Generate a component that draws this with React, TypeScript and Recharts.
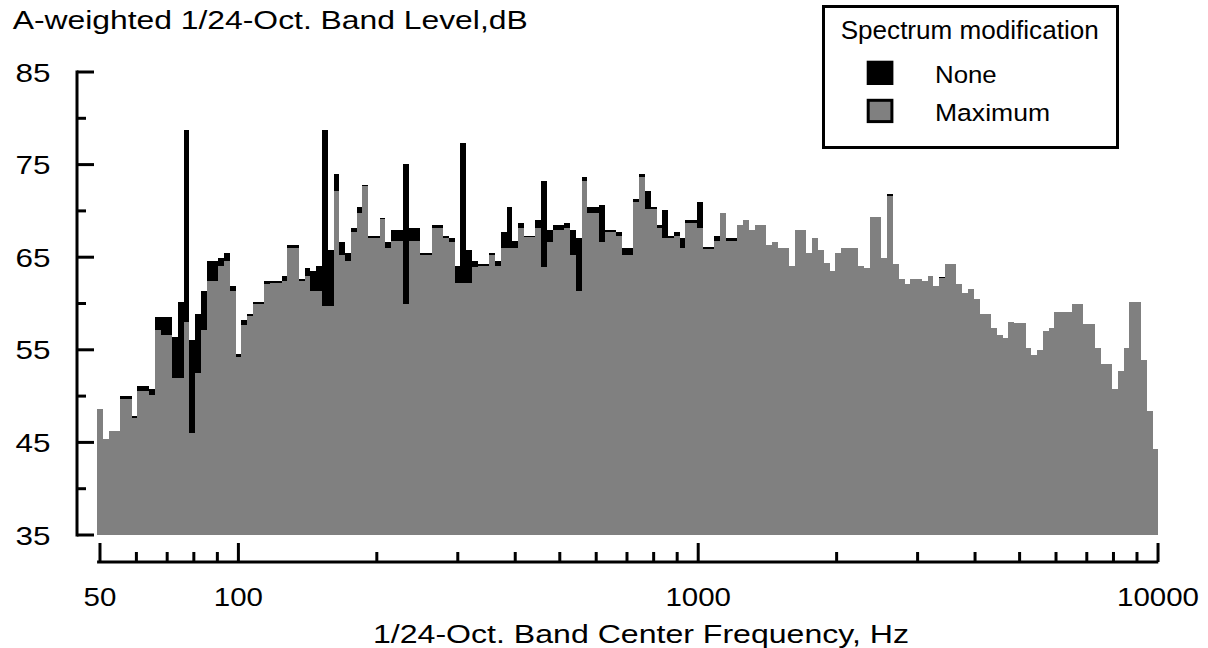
import React from 'react';
import { ComposedChart, Bar, Line, XAxis, YAxis, Legend } from 'recharts';

// A-weighted 1/24-octave band levels in dB, one value per band, starting at 50 Hz
const maximumLevels = [
  48.6, 45.4, 46.2, 46.2, 49.7, 49.7, 47.6, 50.6, 50.6, 50.1,
  57.1, 56.6, 56.6, 52.0, 52.0, 58.0, 46.0, 52.5, 57.1, 62.4,
  62.4, 64.1, 64.6, 61.4, 54.2, 57.7, 58.6, 59.9, 59.9, 62.1,
  62.2, 62.2, 62.4, 66.0, 66.0, 62.4, 63.0, 61.4, 61.4, 59.7,
  59.7, 72.1, 65.2, 64.6, 67.7, 69.8, 72.7, 67.1, 67.1, 69.1,
  66.0, 66.8, 66.8, 60.0, 66.8, 66.8, 65.2, 65.2, 68.2, 68.2,
  67.1, 66.6, 62.2, 62.2, 62.2, 63.9, 64.1, 64.1, 65.2, 64.1,
  66.0, 66.0, 66.0, 68.2, 67.2, 67.2, 68.2, 63.9, 66.6, 67.9,
  67.9, 68.2, 65.2, 61.4, 73.2, 69.8, 69.8, 66.6, 67.7, 67.7,
  67.3, 65.2, 65.2, 71.0, 73.7, 70.2, 70.2, 68.2, 67.1, 67.1,
  67.3, 66.0, 68.7, 68.7, 68.2, 65.9, 65.9, 66.8, 69.8, 66.8,
  66.8, 68.5, 69.0, 67.9, 68.5, 68.5, 66.3, 66.6, 66.0, 66.0,
  64.0, 67.9, 67.9, 65.5, 67.1, 65.8, 64.4, 63.5, 65.5, 66.0,
  66.0, 66.0, 64.1, 63.8, 69.3, 69.3, 64.9, 71.6, 64.3, 62.6,
  62.1, 62.6, 62.6, 62.4, 63.0, 61.9, 62.7, 64.3, 64.3, 62.1,
  61.1, 61.6, 60.5, 58.9, 58.9, 57.4, 56.6, 56.3, 58.0, 57.9,
  57.9, 55.2, 54.4, 55.0, 57.0, 57.4, 59.1, 59.1, 59.1, 59.9,
  59.9, 57.8, 57.8, 55.2, 53.5, 53.5, 50.8, 52.7, 55.2, 60.2,
  60.2, 53.9, 48.4, 44.3,
];

const noneLevels = [
  47.8, 42.6, 42.9, 42.9, 50.0, 50.0, 47.9, 51.1, 51.1, 50.8,
  58.5, 58.5, 58.5, 56.4, 60.2, 78.7, 56.1, 58.9, 61.4, 64.6,
  64.6, 64.9, 65.4, 61.9, 54.6, 58.2, 58.9, 60.2, 60.2, 62.4,
  62.4, 62.4, 63.0, 66.3, 66.3, 62.6, 63.8, 63.5, 64.1, 78.7,
  65.8, 74.0, 66.6, 65.4, 68.2, 70.4, 72.8, 67.3, 67.3, 69.2,
  66.6, 67.9, 67.9, 75.1, 68.2, 68.2, 65.5, 65.5, 68.5, 68.5,
  67.3, 67.1, 64.1, 77.3, 65.8, 64.6, 64.3, 64.3, 65.5, 64.6,
  67.7, 70.4, 66.8, 68.7, 67.3, 67.3, 69.0, 73.2, 67.9, 68.5,
  68.5, 68.7, 67.9, 67.1, 73.7, 70.4, 70.4, 70.6, 67.9, 67.9,
  67.7, 66.0, 66.0, 71.3, 74.0, 72.1, 70.4, 68.5, 70.1, 67.3,
  67.7, 67.1, 69.0, 69.0, 71.0, 66.1, 66.1, 67.3, 69.5, 67.1,
  67.1, 68.2, 68.7, 67.6, 68.2, 68.2, 66.0, 66.3, 65.7, 65.7,
  63.7, 67.6, 67.6, 65.2, 66.8, 65.5, 64.1, 63.2, 65.2, 65.7,
  65.7, 65.7, 63.8, 63.5, 69.0, 69.0, 64.6, 71.8, 64.0, 62.3,
  61.8, 62.3, 62.3, 62.1, 62.7, 61.6, 62.9, 64.0, 64.0, 61.8,
  60.8, 61.3, 60.2, 58.6, 58.6, 57.1, 56.3, 56.0, 57.7, 57.6,
  57.6, 54.9, 54.1, 54.7, 56.7, 57.1, 58.8, 58.8, 58.8, 59.6,
  59.6, 57.5, 57.5, 54.9, 53.2, 53.2, 50.5, 52.4, 54.9, 59.9,
  59.9, 53.6, 48.1, 44.0,
];

const firstBandHz = 50;
const bandsPerOctave = 24;

const freqTicks = [
  50, 60, 70, 80, 90, 100, 200, 300, 400, 500, 600, 700, 800, 900,
  1000, 2000, 3000, 4000, 5000, 6000, 7000, 8000, 9000, 10000,
];
const freqTickLabels = [50, 100, 1000, 10000];
const levelTicks = [35, 40, 45, 50, 55, 60, 65, 70, 75, 80, 85];
const levelTickLabels = [35, 45, 55, 65, 75, 85];
const legendOrder = ['None', 'Maximum'];

const LEVEL_FLOOR = 35;
const LEVEL_TOP = 85;

// layout (px, page coords)
const CHART_W = 1208;
const CHART_H = 648;
const PLOT_LEFT = 97.1;
const PLOT_RIGHT = 1158.3;
const PLOT_TOP = 72;
const X_AXIS_Y = 562;
const Y_AXIS_X = 77;
const FLOOR_GAP = 27;
const BAND_PX = (PLOT_RIGHT - PLOT_LEFT) / maximumLevels.length;

const FONT = '"Liberation Sans", Arial, Helvetica, sans-serif';
const DIGIT_W = 16.4;

const data = maximumLevels.map((level, k) => ({
  band: k,
  freq: firstBandHz * Math.pow(2, k / bandsPerOctave),
  none: [LEVEL_FLOOR, noneLevels[k]],
  maximum: [LEVEL_FLOOR, level],
}));

// band edges of first and last band, so the log axis lines up with the bars
const freqDomain = [
  firstBandHz * Math.pow(2, -0.5 / bandsPerOctave),
  firstBandHz * Math.pow(2, (maximumLevels.length - 0.5) / bandsPerOctave),
];

const BarShape = (props: any) => {
  const { x, y, width, height, fill } = props;
  if (width == null || height == null || height <= 0) return null;
  return <rect x={x} y={y} width={width} height={height} fill={fill} shapeRendering="crispEdges" />;
};

const LevelTick = (props: any) => {
  const { y, payload } = props;
  const v = payload.value;
  const labeled = levelTickLabels.includes(v);
  return (
    <g>
      {v === LEVEL_FLOOR && (
        <line x1={Y_AXIS_X} y1={y} x2={Y_AXIS_X} y2={PLOT_TOP} stroke="#000" strokeWidth={3} strokeLinecap="square" />
      )}
      <line x1={Y_AXIS_X} y1={y} x2={Y_AXIS_X + (labeled ? 17 : 9)} y2={y} stroke="#000" strokeWidth={3} />
      {labeled && (
        <text
          x={50.5}
          y={y + 9.5}
          textAnchor="end"
          fontFamily={FONT}
          fontSize={26.5}
          fill="#000"
          textLength={String(v).length * 17.5}
          lengthAdjust="spacingAndGlyphs"
        >
          {v}
        </text>
      )}
    </g>
  );
};

const FreqTick = (props: any) => {
  const { x, payload } = props;
  const v = payload.value;
  const labeled = freqTickLabels.includes(v);
  return (
    <g>
      <line x1={x} y1={X_AXIS_Y} x2={x} y2={X_AXIS_Y - (labeled ? 19 : 10)} stroke="#000" strokeWidth={3} />
      {labeled && (
        <text
          x={x}
          y={606}
          textAnchor="middle"
          fontFamily={FONT}
          fontSize={26}
          fill="#000"
          textLength={String(v).length * DIGIT_W}
          lengthAdjust="spacingAndGlyphs"
        >
          {v}
        </text>
      )}
    </g>
  );
};

const LegendBox = (props: any) => {
  const items = (props.payload || [])
    .filter((p: any) => legendOrder.includes(p.value))
    .sort((a: any, b: any) => legendOrder.indexOf(a.value) - legendOrder.indexOf(b.value));
  const widths: Record<string, number> = { None: 61.7, Maximum: 115 };
  return (
    <svg width={297} height={144} style={{ display: 'block' }}>
      <rect x={1.5} y={1.5} width={294} height={141} fill="#fff" stroke="#000" strokeWidth={3} />
      <text x={18.7} y={33.5} fontFamily={FONT} fontSize={25} fill="#000" textLength={258} lengthAdjust="spacingAndGlyphs">
        Spectrum modification
      </text>
      {items.map((item: any, i: number) => {
        const top = 55.7 + i * 38.1;
        const outlined = item.value === 'Maximum';
        return (
          <g key={item.value}>
            {outlined ? (
              <rect x={46.2} y={top + 1.5} width={23.7} height={21.3} fill={item.color} stroke="#000" strokeWidth={3} />
            ) : (
              <rect x={44.7} y={top} width={26.7} height={24.3} fill={item.color} />
            )}
            <text
              x={113}
              y={top + 22.6}
              fontFamily={FONT}
              fontSize={24.5}
              fill="#000"
              textLength={widths[item.value] || undefined}
              lengthAdjust="spacingAndGlyphs"
            >
              {item.value}
            </text>
          </g>
        );
      })}
    </svg>
  );
};

const App: React.FC = () => {
  return (
    <div style={{ position: 'absolute', left: 0, top: 0, width: CHART_W, height: CHART_H, background: '#fff' }}>
      <ComposedChart
        width={CHART_W}
        height={CHART_H}
        data={data}
        margin={{ top: PLOT_TOP, right: CHART_W - PLOT_RIGHT, bottom: 0, left: 0 }}
        barGap={-(BAND_PX - 0.001)}
        barCategoryGap={0}
      >
        <XAxis
          xAxisId="freq"
          dataKey="freq"
          type="number"
          scale="log"
          domain={freqDomain}
          allowDataOverflow
          ticks={freqTicks}
          interval={0}
          height={CHART_H - X_AXIS_Y}
          tickLine={false}
          tickSize={0}
          tickMargin={0}
          axisLine={{ stroke: '#000', strokeWidth: 3 }}
          tick={<FreqTick />}
          label={{
            content: () => (
              <text x={373} y={643} fontFamily={FONT} fontSize={26} fill="#000" textLength={536} lengthAdjust="spacingAndGlyphs">
                1/24-Oct. Band Center Frequency, Hz
              </text>
            ),
          }}
        />
        <XAxis xAxisId="band" dataKey="band" type="category" hide height={0} />
        <YAxis
          type="number"
          domain={[LEVEL_FLOOR, LEVEL_TOP]}
          ticks={levelTicks}
          interval={0}
          width={PLOT_LEFT}
          padding={{ top: 0, bottom: FLOOR_GAP }}
          allowDataOverflow
          axisLine={false}
          tickLine={false}
          tickSize={0}
          tickMargin={0}
          tick={<LevelTick />}
          label={{
            content: () => (
              <text x={12.7} y={29.3} fontFamily={FONT} fontSize={25.6} fill="#000" textLength={515} lengthAdjust="spacingAndGlyphs">
                A-weighted 1/24-Oct. Band Level,dB
              </text>
            ),
          }}
        />
        <Legend
          layout="vertical"
          align="center"
          verticalAlign="middle"
          wrapperStyle={{ left: 822, top: 5, width: 297, height: 144 }}
          content={<LegendBox />}
        />
        <Bar
          xAxisId="band"
          dataKey="none"
          name="None"
          fill="#000000"
          barSize={BAND_PX - 0.001}
          shape={<BarShape />}
          isAnimationActive={false}
        />
        <Bar
          xAxisId="band"
          dataKey="maximum"
          name="Maximum"
          fill="#808080"
          barSize={BAND_PX - 0.001}
          shape={<BarShape />}
          isAnimationActive={false}
        />
        <Line
          xAxisId="freq"
          dataKey={(d: any) => d.maximum[1]}
          stroke="none"
          dot={false}
          activeDot={false}
          legendType="none"
          isAnimationActive={false}
        />
      </ComposedChart>
    </div>
  );
};

export default App;
